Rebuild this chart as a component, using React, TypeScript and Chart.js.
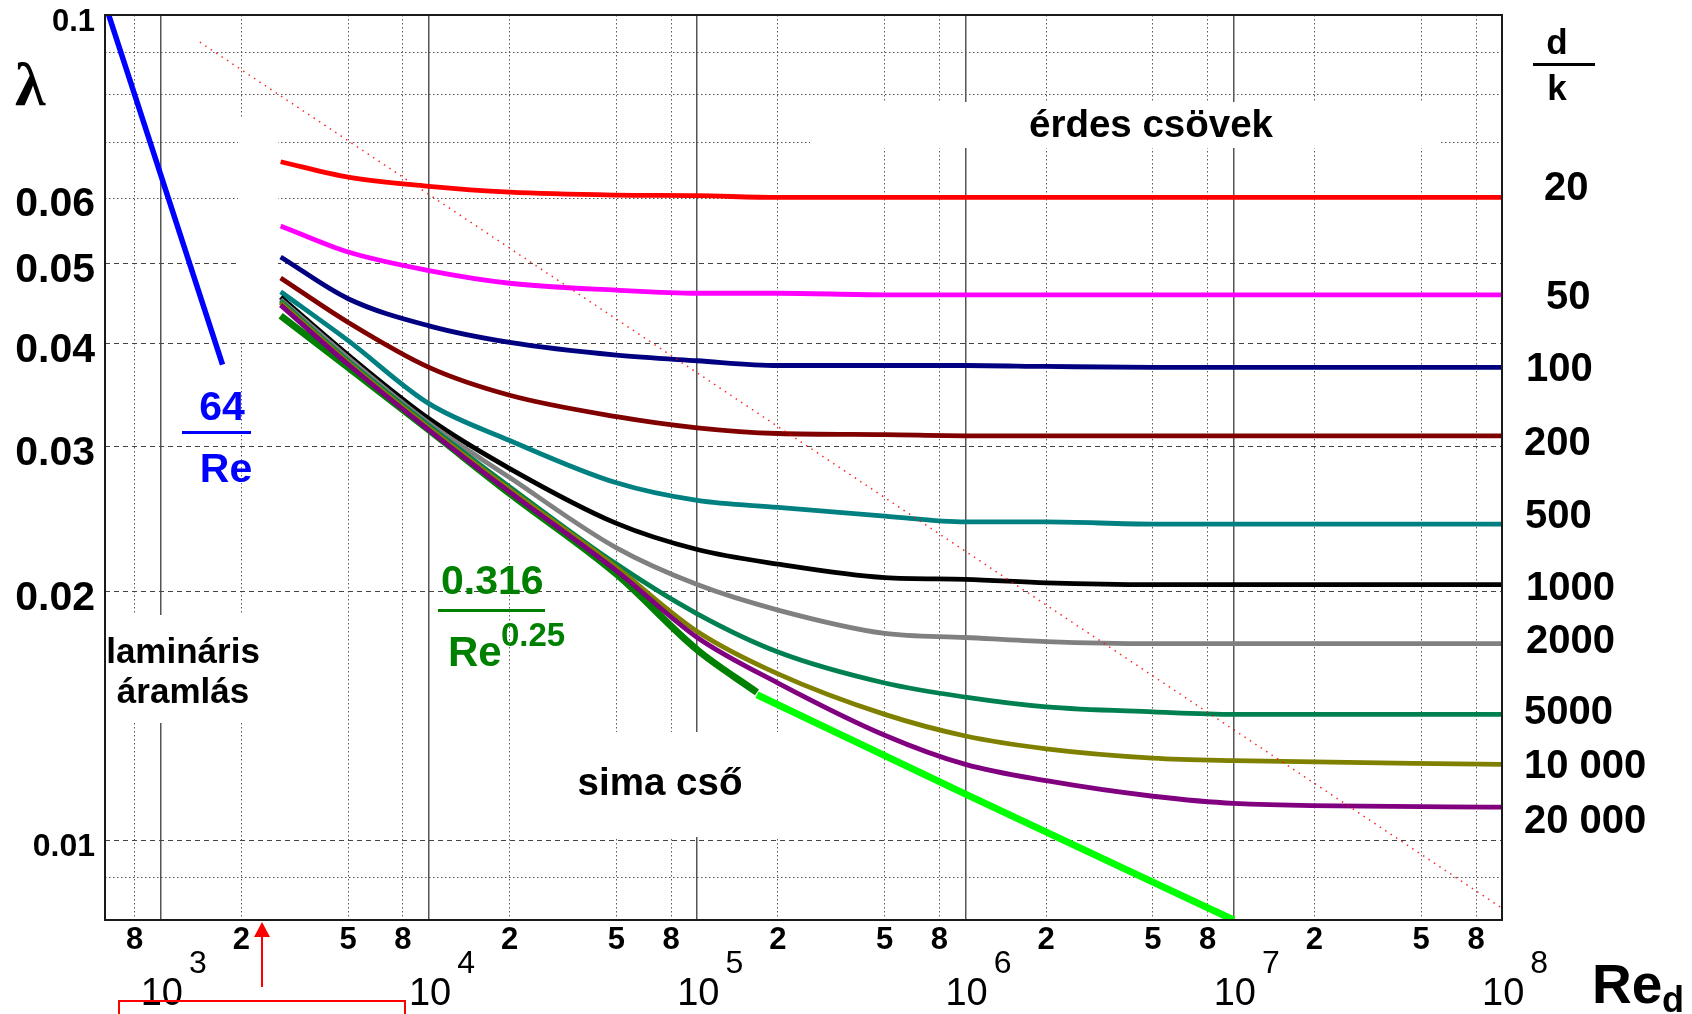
import React, { useEffect, useRef } from 'react';
import { Chart, registerables } from 'chart.js';

Chart.register(...registerables);

// ---------- data ----------
// Reynolds numbers shared by the rough-pipe curves
const reGrid = [2800, 5000, 10000, 20000, 50000, 1e5, 2e5, 5e5, 1e6, 2e6, 5e6, 1e7, 1e8];

// relative roughness d/k of each curve
const dkLabels = ['20', '50', '100', '200', '500', '1000', '2000', '5000', '10 000', '20 000'];

const lambda20 = [0.0664, 0.0636, 0.062, 0.061, 0.0605, 0.0604, 0.0601, 0.0601, 0.0601, 0.0601, 0.0601, 0.0601, 0.0601];
const lambda50 = [0.0555, 0.0516, 0.049, 0.0473, 0.0464, 0.046, 0.046, 0.0458, 0.0458, 0.0458, 0.0458, 0.0458, 0.0458];
const lambda100 = [0.0509, 0.0453, 0.042, 0.0401, 0.0387, 0.0381, 0.0376, 0.0376, 0.0376, 0.0375, 0.0374, 0.0374, 0.0374];
const lambda200 = [0.048, 0.0424, 0.0374, 0.0346, 0.0326, 0.0316, 0.0311, 0.031, 0.0309, 0.0309, 0.0309, 0.0309, 0.0309];
const lambda500 = [0.0462, 0.0403, 0.0338, 0.0305, 0.0271, 0.0258, 0.0253, 0.0247, 0.0243, 0.0243, 0.02415, 0.02415, 0.02415];
const lambda1000 = [0.0455, 0.0387, 0.0324, 0.0282, 0.0242, 0.0225, 0.0216, 0.0208, 0.0207, 0.0205, 0.0204, 0.0204, 0.0204];
const lambda2000 = [0.0452, 0.0384, 0.032, 0.0275, 0.0226, 0.0204, 0.019, 0.0178, 0.0176, 0.0174, 0.0173, 0.0173, 0.0173];
const lambda5000 = [0.045, 0.0381, 0.0318, 0.0268, 0.0216, 0.0188, 0.0169, 0.0155, 0.0149, 0.0145, 0.0143, 0.0142, 0.0142];
const lambda10000 = [0.0448, 0.0379, 0.0316, 0.0266, 0.0214, 0.0179, 0.0159, 0.0142, 0.01337, 0.0129, 0.01257, 0.01248, 0.01235];
const lambda20000 = [0.0445, 0.0377, 0.0314, 0.0264, 0.0212, 0.0176, 0.0155, 0.0134, 0.01235, 0.0118, 0.0113, 0.01108, 0.01096];

// laminar flow 64/Re
const laminarRe = [640, 1700];
const laminarLambda = [0.1, 0.0377];

// smooth pipe 0.316/Re^0.25 (dark green)
const blasiusRe = [2800, 5000, 10000, 20000, 50000, 1e5, 1.67e5];
const blasiusLambda = [0.0432, 0.0374, 0.0314, 0.0263, 0.021, 0.017, 0.0151];

// smooth pipe continuation (bright green)
const smoothRe = [1.67e5, 1e6, 1e7];
const smoothLambda = [0.015, 0.01137, 0.008];

// boundary of the fully rough zone (red dotted)
const boundaryRe = [1400, 1e8];
const boundaryLambda = [0.0927, 0.00827];

// axis ticks
const xTickValues = [800, 1e3, 2e3, 5e3, 8e3, 1e4, 2e4, 5e4, 8e4, 1e5, 2e5, 5e5, 8e5, 1e6, 2e6, 5e6, 8e6, 1e7, 2e7, 5e7, 8e7, 1e8];
const xLabelMantissas = [2, 5, 8];
const decadeValues = [1e3, 1e4, 1e5, 1e6, 1e7, 1e8];
const yTickValues = [0.009, 0.01, 0.02, 0.03, 0.04, 0.05, 0.06, 0.07, 0.08, 0.09, 0.1];
const yLabelValues = [0.01, 0.02, 0.03, 0.04, 0.05, 0.06, 0.1];
const yDashedValues = [0.01, 0.02, 0.03, 0.04, 0.05];

// ---------- styles ----------
const roughSeries = [lambda20, lambda50, lambda100, lambda200, lambda500, lambda1000, lambda2000, lambda5000, lambda10000, lambda20000];
const roughColors = ['#ff0000', '#ff00ff', '#000080', '#800000', '#008080', '#000000', '#808080', '#008050', '#808000', '#800080'];
const dkLabelDx = [42, 44, 24, 22, 23, 24, 24, 22, 22, 22];
const dkLabelDy = [-8, 3, 3, 8, -7, 4, -2, -1, 3, 15];

const FAMILY = "'Liberation Sans', Arial, sans-serif";

// white boxes (canvas px) behind annotations: [x0, y0, x1, y1]
const whiteBoxes = [
  [238, 118, 278, 340],
  [106, 615, 272, 723],
  [810, 102, 1440, 148],
  [560, 732, 800, 837],
];

const pts = (xs: number[], ys: number[]) => xs.map((x, i) => ({ x, y: ys[i] }));

const mantissa = (v: number) => {
  const e = Math.floor(Math.log10(v) + 1e-9);
  return Math.round(v / Math.pow(10, e));
};
const near = (a: number, b: number) => Math.abs(a - b) / b < 1e-6;

function fillText(ctx: CanvasRenderingContext2D, s: string, x: number, y: number, font: string, color = '#000', align: CanvasTextAlign = 'left') {
  ctx.font = font;
  ctx.fillStyle = color;
  ctx.textAlign = align;
  ctx.textBaseline = 'alphabetic';
  ctx.fillText(s, x, y);
}

const overlayPlugin = {
  id: 'overlay',
  beforeDatasetsDraw(chart: any) {
    const ctx = chart.ctx as CanvasRenderingContext2D;
    ctx.save();
    ctx.fillStyle = '#ffffff';
    for (const b of whiteBoxes) ctx.fillRect(b[0], b[1], b[2] - b[0], b[3] - b[1]);
    ctx.restore();
  },
  afterDatasetsDraw(chart: any) {
    const ctx = chart.ctx as CanvasRenderingContext2D;
    const a = chart.chartArea;
    const ys = chart.scales.y;
    ctx.save();
    // frame
    ctx.strokeStyle = '#1a1a1a';
    ctx.lineWidth = 2;
    ctx.strokeRect(a.left, a.top, a.right - a.left, a.bottom - a.top);

    // lambda symbol
    fillText(ctx, 'λ', 15, 105, "bold 62px 'Liberation Serif', serif");

    // d/k heading
    fillText(ctx, 'd', 1557, 54, `bold 35px ${FAMILY}`, '#000', 'center');
    ctx.fillStyle = '#000';
    ctx.fillRect(1533, 63, 62, 3);
    fillText(ctx, 'k', 1557, 100, `bold 35px ${FAMILY}`, '#000', 'center');

    // d/k labels at curve ends
    ctx.font = `bold 40px ${FAMILY}`;
    roughSeries.forEach((s, i) => {
      const yp = ys.getPixelForValue(s[s.length - 1]) + dkLabelDy[i];
      ctx.fillStyle = '#000';
      ctx.textAlign = 'left';
      ctx.textBaseline = 'middle';
      ctx.fillText(dkLabels[i], a.right + dkLabelDx[i], yp);
    });

    // region labels
    fillText(ctx, 'érdes csövek', 1151, 137, `bold 38.5px ${FAMILY}`, '#000', 'center');
    fillText(ctx, 'sima cső', 660, 795, `bold 38.5px ${FAMILY}`, '#000', 'center');
    fillText(ctx, 'lamináris', 183, 663, `bold 35px ${FAMILY}`, '#000', 'center');
    fillText(ctx, 'áramlás', 183, 703, `bold 35px ${FAMILY}`, '#000', 'center');

    // 64/Re
    fillText(ctx, '64', 222, 420, `bold 41px ${FAMILY}`, '#0000ff', 'center');
    ctx.fillStyle = '#0000ff';
    ctx.fillRect(182, 431, 69, 3);
    fillText(ctx, 'Re', 226, 482, `bold 41px ${FAMILY}`, '#0000ff', 'center');

    // 0.316 / Re^0.25
    fillText(ctx, '0.316', 441, 594, `bold 41px ${FAMILY}`, '#008000', 'left');
    ctx.fillStyle = '#008000';
    ctx.fillRect(438, 609, 107, 3);
    fillText(ctx, 'Re', 448, 666, `bold 42px ${FAMILY}`, '#008000', 'left');
    fillText(ctx, '0.25', 501, 646, `bold 33px ${FAMILY}`, '#008000', 'left');
    ctx.restore();
  },
  afterDraw(chart: any) {
    const ctx = chart.ctx as CanvasRenderingContext2D;
    const xs = chart.scales.x;
    ctx.save();
    // decade labels 10^n
    for (const d of decadeValues) {
      const px = xs.getPixelForValue(d);
      const exp = Math.round(Math.log10(d));
      const left = px - 20;
      fillText(ctx, '10', left, 1005, `38px ${FAMILY}`);
      const w = ctx.measureText('10').width;
      fillText(ctx, String(exp), left + w + 6, 973, `32px ${FAMILY}`);
    }
    // Re_d
    fillText(ctx, 'Re', 1592, 1003, `bold 55px ${FAMILY}`);
    fillText(ctx, 'd', 1662, 1012, `bold 36px ${FAMILY}`);

    // red arrow and box
    ctx.strokeStyle = '#ff0000';
    ctx.fillStyle = '#ff0000';
    ctx.lineWidth = 2;
    ctx.beginPath();
    ctx.moveTo(262, 987);
    ctx.lineTo(262, 935);
    ctx.stroke();
    ctx.beginPath();
    ctx.moveTo(262, 922);
    ctx.lineTo(254, 937);
    ctx.lineTo(270, 937);
    ctx.closePath();
    ctx.fill();
    ctx.strokeRect(119, 1001, 286, 30);
    ctx.restore();
  },
};

export default function App() {
  const ref = useRef<HTMLCanvasElement>(null);

  useEffect(() => {
    if (!ref.current) return;

    const lineBase = {
      pointRadius: 0,
      fill: false,
      cubicInterpolationMode: 'monotone' as const,
      borderJoinStyle: 'round' as const,
      borderCapStyle: 'butt' as const,
    };

    const roughOrder = [9, 8, 7, 6, 5, 4, 3, 2, 1, 0];
    const datasets: any[] = [
      {
        ...lineBase,
        label: 'határ',
        data: pts(boundaryRe, boundaryLambda),
        borderColor: 'rgba(255,0,0,0.85)',
        borderWidth: 1.5,
        borderDash: [1.5, 5],
      },
      ...roughOrder.map((i) => ({
        ...lineBase,
        label: 'd/k = ' + dkLabels[i],
        data: pts(reGrid, roughSeries[i]),
        borderColor: roughColors[i],
        borderWidth: 4.8,
      })),
      {
        ...lineBase,
        label: '0.316/Re^0.25',
        data: pts(blasiusRe, blasiusLambda),
        borderColor: '#008000',
        borderWidth: 7,
      },
      {
        ...lineBase,
        label: 'sima cső',
        data: pts(smoothRe, smoothLambda),
        borderColor: '#00ff00',
        borderWidth: 7,
      },
      {
        ...lineBase,
        label: '64/Re',
        data: pts(laminarRe, laminarLambda),
        borderColor: '#0000ff',
        borderWidth: 5.5,
      },
    ];

    const chart = new Chart(ref.current, {
      type: 'line',
      data: { datasets },
      options: {
        animation: false,
        responsive: false,
        devicePixelRatio: 1,
        events: [],
        layout: { padding: { top: 15, right: 190, bottom: 0, left: 0 } },
        plugins: { legend: { display: false }, tooltip: { enabled: false } },
        scales: {
          x: {
            type: 'logarithmic',
            min: 620,
            max: 1e8,
            afterBuildTicks: (s: any) => {
              s.ticks = xTickValues.map((v) => ({ value: v }));
            },
            afterFit: (s: any) => {
              s.height = 94;
              s.paddingLeft = 0;
              s.paddingRight = 0;
            },
            grid: {
              drawTicks: false,
              color: (c: any) => {
                const v = c.tick ? c.tick.value : null;
                if (v == null || near(v, 1e8)) return 'rgba(0,0,0,0)';
                return mantissa(v) === 1 ? '#555555' : '#5a5a5a';
              },
              lineWidth: (c: any) => {
                const v = c.tick ? c.tick.value : null;
                if (v == null) return 0;
                return mantissa(v) === 1 ? 1.5 : 1;
              },
            },
            border: {
              display: false,
              dash: (c: any) => {
                const v = c.tick ? c.tick.value : null;
                if (v == null) return [];
                return mantissa(v) === 1 ? [] : [1.5, 2.5];
              },
            },
            ticks: {
              autoSkip: false,
              maxRotation: 0,
              minRotation: 0,
              padding: 2,
              color: '#000',
              font: { family: FAMILY, size: 31, weight: 'bold' },
              callback: (value: any) => {
                const m = mantissa(Number(value));
                return xLabelMantissas.includes(m) ? String(m) : '';
              },
            },
          },
          y: {
            type: 'logarithmic',
            min: 0.008,
            max: 0.1,
            afterBuildTicks: (s: any) => {
              s.ticks = yTickValues.map((v) => ({ value: v }));
            },
            afterFit: (s: any) => {
              s.width = 105;
              s.paddingTop = 0;
              s.paddingBottom = 0;
            },
            grid: {
              drawTicks: false,
              color: (c: any) => {
                const v = c.tick ? c.tick.value : null;
                if (v == null || near(v, 0.1)) return 'rgba(0,0,0,0)';
                return yDashedValues.some((d) => near(v, d)) ? '#444444' : '#555555';
              },
              lineWidth: 1,
            },
            border: {
              display: false,
              dash: (c: any) => {
                const v = c.tick ? c.tick.value : null;
                if (v == null) return [];
                return yDashedValues.some((d) => near(v, d)) ? [5, 4] : [1.5, 2.5];
              },
            },
            ticks: {
              autoSkip: false,
              padding: 10,
              labelOffset: 7,
              color: '#000',
              font: (c: any) => {
                const v = c.tick ? c.tick.value : 0;
                const size = near(v, 0.1) ? 31 : near(v, 0.01) ? 32 : 41;
                return { family: FAMILY, size, weight: 'bold' };
              },
              callback: (value: any) => {
                const v = Number(value);
                const hit = yLabelValues.find((d) => near(v, d));
                return hit !== undefined ? String(hit) : '';
              },
            },
          },
        },
      },
      plugins: [overlayPlugin],
    } as any);

    return () => chart.destroy();
  }, []);

  return (
    <div style={{ position: 'fixed', left: 0, top: 0, width: 1692, height: 1014, background: '#ffffff' }}>
      <canvas ref={ref} width={1692} height={1014} style={{ display: 'block', width: 1692, height: 1014 }} />
    </div>
  );
}
